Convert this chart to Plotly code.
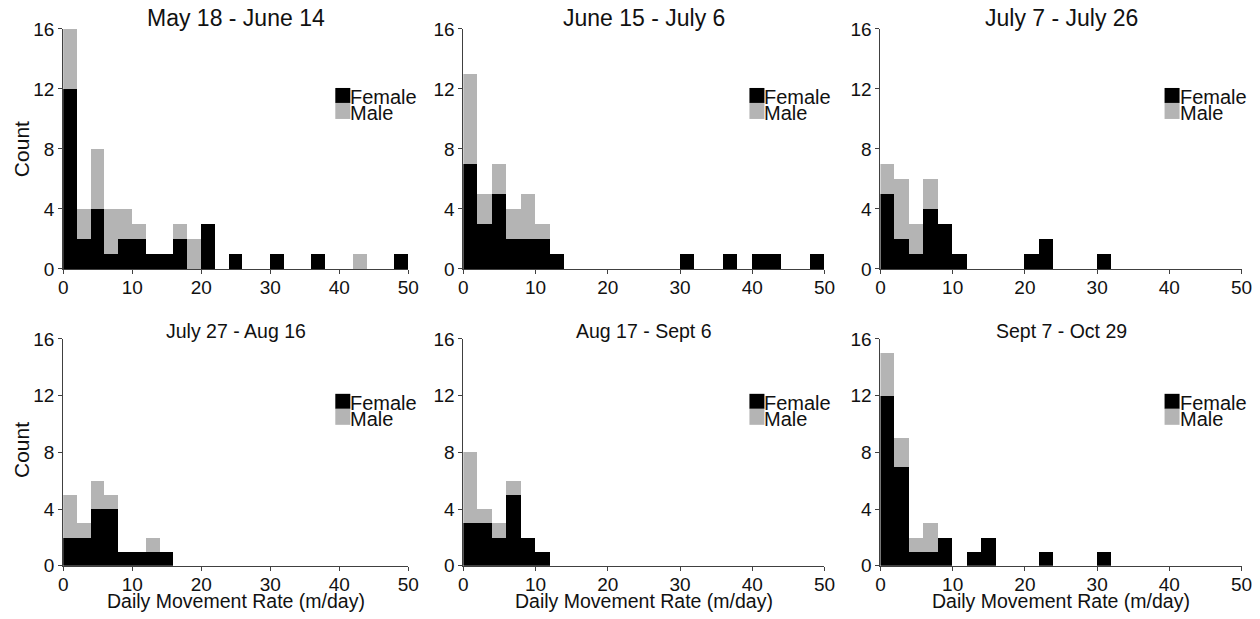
import plotly.graph_objects as go

# ---------------- data ----------------
bin_left = list(range(0, 50, 2))          # histogram bins of width 2 m/day
bin_width = 2
x_ticks = [0, 10, 20, 30, 40, 50]
y_ticks = [0, 4, 8, 12, 16]

titles = ["May 18 - June 14", "June 15 - July 6", "July 7 - July 26",
          "July 27 - Aug 16", "Aug 17 - Sept 6", "Sept 7 - Oct 29"]

female_p1 = [12, 2, 4, 1, 2, 2, 1, 1, 2, 0, 3, 0, 1, 0, 0, 1, 0, 0, 1, 0, 0, 0, 0, 0, 1]
male_p1   = [4, 2, 4, 3, 2, 1, 0, 0, 1, 2, 0, 0, 0, 0, 0, 0, 0, 0, 0, 0, 0, 1, 0, 0, 0]
female_p2 = [7, 3, 5, 2, 2, 2, 1, 0, 0, 0, 0, 0, 0, 0, 0, 1, 0, 0, 1, 0, 1, 1, 0, 0, 1]
male_p2   = [6, 2, 2, 2, 3, 1, 0, 0, 0, 0, 0, 0, 0, 0, 0, 0, 0, 0, 0, 0, 0, 0, 0, 0, 0]
female_p3 = [5, 2, 1, 4, 3, 1, 0, 0, 0, 0, 1, 2, 0, 0, 0, 1, 0, 0, 0, 0, 0, 0, 0, 0, 0]
male_p3   = [2, 4, 2, 2, 0, 0, 0, 0, 0, 0, 0, 0, 0, 0, 0, 0, 0, 0, 0, 0, 0, 0, 0, 0, 0]
female_p4 = [2, 2, 4, 4, 1, 1, 1, 1, 0, 0, 0, 0, 0, 0, 0, 0, 0, 0, 0, 0, 0, 0, 0, 0, 0]
male_p4   = [3, 1, 2, 1, 0, 0, 1, 0, 0, 0, 0, 0, 0, 0, 0, 0, 0, 0, 0, 0, 0, 0, 0, 0, 0]
female_p5 = [3, 3, 2, 5, 2, 1, 0, 0, 0, 0, 0, 0, 0, 0, 0, 0, 0, 0, 0, 0, 0, 0, 0, 0, 0]
male_p5   = [5, 1, 1, 1, 0, 0, 0, 0, 0, 0, 0, 0, 0, 0, 0, 0, 0, 0, 0, 0, 0, 0, 0, 0, 0]
female_p6 = [12, 7, 1, 1, 2, 0, 1, 2, 0, 0, 0, 1, 0, 0, 0, 1, 0, 0, 0, 0, 0, 0, 0, 0, 0]
male_p6   = [3, 2, 1, 2, 0, 0, 0, 0, 0, 0, 0, 0, 0, 0, 0, 0, 0, 0, 0, 0, 0, 0, 0, 0, 0]

females = [female_p1, female_p2, female_p3, female_p4, female_p5, female_p6]
males = [male_p1, male_p2, male_p3, male_p4, male_p5, male_p6]

# ---------------- layout / style ----------------
W, H = 1260, 619
FONT = "Liberation Sans, Arial, sans-serif"
FEMALE_COLOR = "#000000"
MALE_COLOR = "#b4b4b4"
AXIS_COLOR = "#404040"
TXT = "#111111"

# target pixel positions in the final picture
col_px = [(62, 407), (462, 823), (879, 1240)]
row_px = [(29, 269), (339, 566)]

# the page is photographed with a small margin: compensate (measured)
SX, OX = 0.987, 3.8
SY, OY = 0.9665, 10.0


def px_x(p):
    return ((p - OX) / SX) / W


def px_y(p):
    return 1 - ((p - OY) / SY) / H


fig = go.Figure()
centers = [b + bin_width / 2 for b in bin_left]
layout = {}
annotations = []
shapes = []

for k in range(6):
    r, c = divmod(k, 3)
    n = k + 1
    xa = "x" if n == 1 else f"x{n}"
    ya = "y" if n == 1 else f"y{n}"
    fig.add_trace(go.Bar(x=centers, y=females[k], width=bin_width, xaxis=xa, yaxis=ya,
                         marker=dict(color=FEMALE_COLOR, line=dict(width=0)),
                         name="Female", showlegend=False, hoverinfo="x+y"))
    fig.add_trace(go.Bar(x=centers, y=males[k], width=bin_width, xaxis=xa, yaxis=ya,
                         marker=dict(color=MALE_COLOR, line=dict(width=0)),
                         name="Male", showlegend=False, hoverinfo="x+y"))

    x0, x1 = col_px[c]
    y0, y1 = row_px[r]
    common = dict(showline=True, linecolor=AXIS_COLOR, linewidth=1, ticks="outside",
                  ticklen=4, tickwidth=1, tickcolor=AXIS_COLOR, showgrid=False,
                  zeroline=False, tickfont=dict(family=FONT, size=19, color=TXT))
    layout["xaxis" if n == 1 else f"xaxis{n}"] = dict(
        domain=[px_x(x0), px_x(x1)], range=[0, 50], tickvals=x_ticks,
        anchor=ya, ticklabelstandoff=-3, **common)
    layout["yaxis" if n == 1 else f"yaxis{n}"] = dict(
        domain=[px_y(y1), px_y(y0)], range=[0, 16], tickvals=y_ticks,
        anchor=xa, ticklabelstandoff=0, **common)

    # panel title
    annotations.append(dict(
        text=titles[k], x=px_x((x0 + x1) / 2), y=px_y(18 if r == 0 else 331),
        xref="paper", yref="paper", xanchor="center", yanchor="middle",
        showarrow=False, font=dict(family=FONT, size=23 if r == 0 else 19.5, color=TXT)))

    # legend (swatches + labels)
    sx = [334, 748, 1163][c]
    top = 88 if r == 0 else 394
    shapes.append(dict(type="rect", xref="paper", yref="paper",
                       x0=px_x(sx), x1=px_x(sx + 15), y0=px_y(top + 15), y1=px_y(top),
                       fillcolor=FEMALE_COLOR, line=dict(width=0)))
    shapes.append(dict(type="rect", xref="paper", yref="paper",
                       x0=px_x(sx), x1=px_x(sx + 15), y0=px_y(top + 31), y1=px_y(top + 15),
                       fillcolor=MALE_COLOR, line=dict(width=0)))
    annotations.append(dict(text="Female", x=px_x(sx + 14), y=px_y(top + 9),
                            xref="paper", yref="paper", xanchor="left", yanchor="middle",
                            showarrow=False, borderpad=0,
                            font=dict(family=FONT, size=20, color=TXT)))
    annotations.append(dict(text="Male", x=px_x(sx + 14), y=px_y(top + 25),
                            xref="paper", yref="paper", xanchor="left", yanchor="middle",
                            showarrow=False, borderpad=0,
                            font=dict(family=FONT, size=20, color=TXT)))

# axis titles
for yc in (149, 450):
    annotations.append(dict(text="Count", x=px_x(21), y=px_y(yc), xref="paper", yref="paper",
                            xanchor="center", yanchor="middle", textangle=-90, showarrow=False,
                            font=dict(family=FONT, size=21, color=TXT)))
for c in range(3):
    x0, x1 = col_px[c]
    annotations.append(dict(text="Daily Movement Rate (m/day)", x=px_x((x0 + x1) / 2),
                            y=px_y(601), xref="paper", yref="paper",
                            xanchor="center", yanchor="middle", showarrow=False, borderpad=0,
                            font=dict(family=FONT, size=19.5, color=TXT)))

fig.update_layout(
    width=W, height=H, autosize=False, margin=dict(l=0, r=0, t=0, b=0, pad=0),
    paper_bgcolor="white", plot_bgcolor="white",
    barmode="stack", bargap=0, showlegend=False,
    annotations=annotations, shapes=shapes,
    font=dict(family=FONT), **layout)

fig.write_html("out.html", config={"responsive": False})
